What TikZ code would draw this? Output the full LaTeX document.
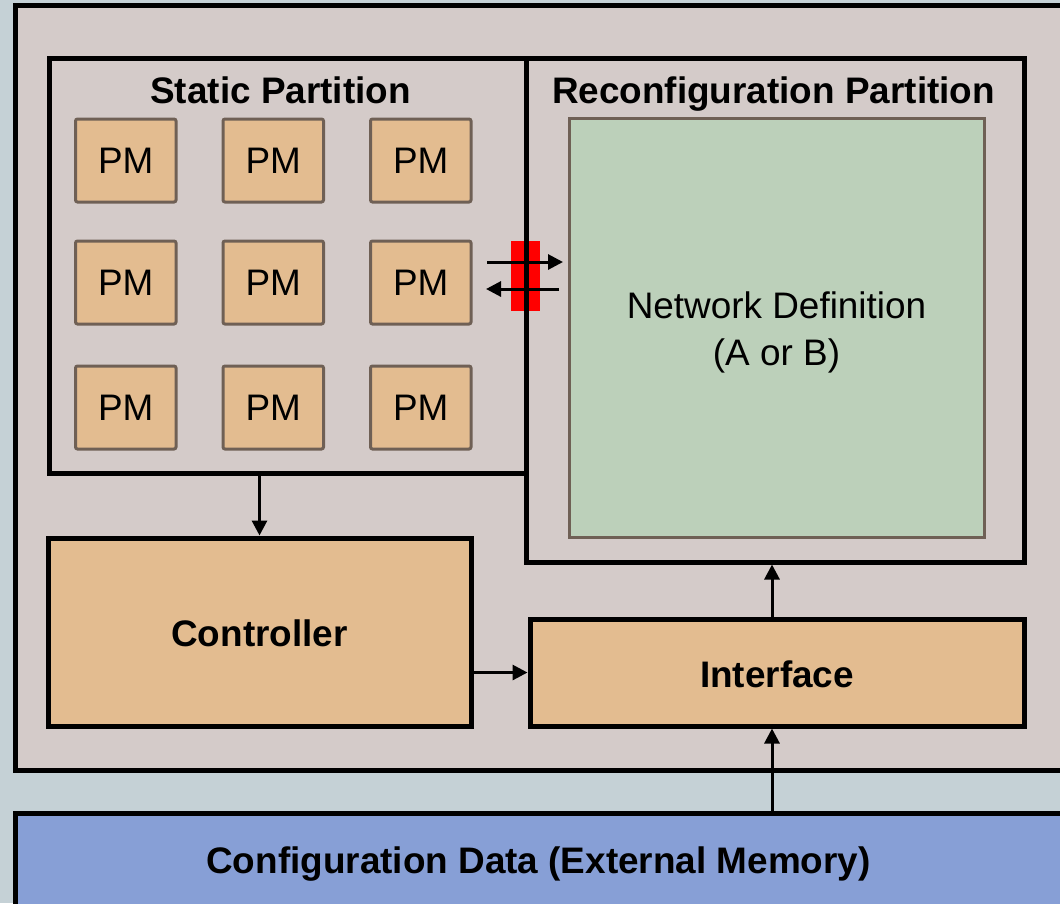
\documentclass[tikz,border=0pt]{standalone}
\usepackage{fontspec}
\setmainfont{Liberation Sans}
\usetikzlibrary{arrows.meta}

\tikzset{
  partition/.style = {draw, rectangle, line width = 1mm, anchor = north west},
  pmbox/.style = {draw = pmborder, rectangle, line width = 0.6mm, rounded corners = 0.4mm, fill = pmorange, minimum width = 2.01cm, minimum height = 1.66cm, inner sep = 0pt, font = \fontsize{21}{26.5}\selectfont},
  blockbox/.style = {draw, rectangle, line width = 1mm, fill = pmorange, anchor = north west, inner sep = 0pt, text height = 0.6cm, font = \fontsize{21}{26.5}\selectfont\bfseries},
  title/.style = {anchor = base, inner sep = 0pt, font = \fontsize{21}{26.5}\selectfont\bfseries},
  arrowline/.style = {draw, -{Triangle[length = 3mm, width = 3mm]}, line width = 0.6mm},
}

\begin{document}
\begin{tikzpicture}
        \definecolor{bgblue}{RGB}{197,209,214}
        \definecolor{boardgray}{RGB}{212,203,201}
        \definecolor{pmorange}{RGB}{227,188,144}
        \definecolor{pmborder}{RGB}{111,96,85}
        \definecolor{netgreen}{RGB}{188,208,186}
        \definecolor{cfgblue}{RGB}{135,159,214}

        \useasboundingbox (0, 0) rectangle (21.2, -18.06);
        \clip (0, 0) rectangle (21.2, -18.06);
        \fill[bgblue] (0, 0) rectangle (21.2, -18.06);

        % board and external memory
        \node[partition, fill = boardgray, minimum width = 21.09cm, minimum height = 15.29cm] at (0.26, -0.06) (fpga) {};
        \node[partition, fill = cfgblue, minimum width = 21.09cm, minimum height = 2.5cm] at (0.26, -16.21) (cfg) {};
        \node[title] at (10.77, -17.47) (cfglabel) {Configuration Data (External Memory)};

        % bus macro
        \node[rectangle, fill = red, minimum width = 0.58cm, minimum height = 1.4cm, inner sep = 0pt] at (10.51, -5.52) (bm) {};

        % partitions
        \node[partition, minimum width = 9.54cm, minimum height = 8.29cm] at (0.93, -1.12) (sp) {};
        \node[partition, minimum width = 9.96cm, minimum height = 10.07cm] at ([xshift = -1mm] sp.north east) (rp) {};
        \node[title] at ([xshift = -0.14cm, yshift = -0.94cm] sp.north) (sptitle) {Static Partition};
        \node[title] at ([xshift = -0.03cm, yshift = -0.94cm] rp.north) (rptitle) {Reconfiguration Partition};

        \node[draw = pmborder, rectangle, line width = 0.6mm, fill = netgreen, anchor = north west, minimum width = 8.3cm, minimum height = 8.38cm] at ([xshift = 0.88cm, yshift = -1.21cm] rp.north west) (netdef) {};
        \node[align = center, font = \fontsize{21}{26.7}\selectfont] at ([yshift = -0.1cm] netdef.center) (netlabel) {Network Definition\\(A or B)};

        % processing modules
        \node[pmbox, anchor = north west] at ([xshift = 0.55cm, yshift = -1.23cm] sp.north west) (pm11) {PM};
        \node[pmbox, anchor = west] at ([xshift = 0.88cm] pm11.east) (pm12) {PM};
        \node[pmbox, anchor = west] at ([xshift = 0.88cm] pm12.east) (pm13) {PM};
        \node[pmbox, anchor = north] at ([yshift = -0.72cm] pm11.south) (pm21) {PM};
        \node[pmbox, anchor = west] at ([xshift = 0.88cm] pm21.east) (pm22) {PM};
        \node[pmbox, anchor = west] at ([xshift = 0.88cm] pm22.east) (pm23) {PM};
        \node[pmbox, anchor = north] at ([yshift = -0.78cm] pm21.south) (pm31) {PM};
        \node[pmbox, anchor = west] at ([xshift = 0.88cm] pm31.east) (pm32) {PM};
        \node[pmbox, anchor = west] at ([xshift = 0.88cm] pm32.east) (pm33) {PM};

        % controller and interface
        \node[blockbox, minimum width = 8.46cm, minimum height = 3.76cm] at (0.91, -10.71) (ctrl) {Controller};
        \node[blockbox, minimum width = 9.88cm, minimum height = 2.14cm] at (10.55, -12.33) (iface) {Interface};

        \path[arrowline] (ctrl.north |- sp.south) -- (ctrl.north);
        \path[arrowline] (ctrl.east |- iface.west) -- (iface.west);
        \path[arrowline] ([xshift = -1mm] iface.north) -- ([xshift = -1mm] iface.north |- rp.south);
        \path[arrowline] ([xshift = -1mm] iface.south |- cfg.north) -- ([xshift = -1mm] iface.south);

        \path[arrowline] ([xshift = -0.77cm, yshift = 0.28cm] bm.center) -- ([xshift = 0.75cm, yshift = 0.28cm] bm.center);
        \path[arrowline] ([xshift = 0.67cm, yshift = -0.26cm] bm.center) -- ([xshift = -0.79cm, yshift = -0.26cm] bm.center);
\end{tikzpicture}
\end{document}
